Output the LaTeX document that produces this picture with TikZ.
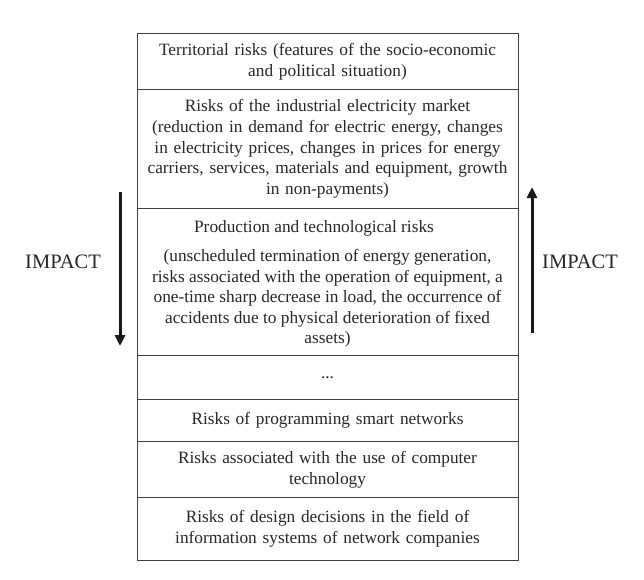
\documentclass[tikz,border=0pt]{standalone}
\usepackage{fontspec}
\setmainfont{Liberation Serif}
\usetikzlibrary{arrows.meta}
\begin{document}
\begin{tikzpicture}[x=1pt,y=-1pt,
  row/.style={draw=black!75, line width=0.9pt, minimum width=381pt, text width=375pt, inner sep=3pt, align=center, font=\fontsize{17.3}{20.7}\selectfont, text=black!85, anchor=north},
  txt/.style={font=\fontsize{17.3}{20.5}\selectfont, text=black!85, align=center},
  lbl/.style={font=\fontsize{20.5}{22}\selectfont, text=black!85},
  imp/.style={line width=3pt, draw=black!90, -{Triangle[length=11pt,width=10pt]}}]
\useasboundingbox (0,0) rectangle (644,579);
\node[row, minimum height=56pt] (r1) at (327.5,33) {Territorial risks (features of the socio-economic\\and political situation)};
\node[row, minimum height=119pt] (r2) at (327.5,89) {Risks of the industrial electricity market\\(reduction in demand for electric energy, changes\\in electricity prices, changes in prices for energy\\carriers, services, materials and equipment, growth\\in non-payments)};
\node[row, minimum height=147pt] (r3) at (327.5,208) {};
\node[txt] (h3) at (314,228) {Production and technological risks};
\node[txt, anchor=north] (p3) at (327.5,246) {(unscheduled termination of energy generation,\\risks associated with the operation of equipment, a\\one-time sharp decrease in load, the occurrence of\\accidents due to physical deterioration of fixed\\assets)};
\node[row, minimum height=44pt] (r4) at (327.5,355) {...};
\node[row, minimum height=42pt] (r5) at (327.5,399) {Risks of programming smart networks};
\node[row, minimum height=56pt] (r6) at (327.5,441) {Risks associated with the use of computer\\technology};
\node[row, minimum height=63pt] (r7) at (327.5,497) {Risks of design decisions in the field of\\information systems of network companies};
\coordinate (la) at (120,192);
\coordinate (lb) at (120,346);
\coordinate (ra) at (532,333);
\coordinate (rb) at (532,187);
\draw[imp] (la) -- (lb);
\draw[imp] (ra) -- (rb);
\node[lbl] (il) at (63,262) {IMPACT};
\node[lbl] (ir) at (580,262) {IMPACT};
\end{tikzpicture}
\end{document}
